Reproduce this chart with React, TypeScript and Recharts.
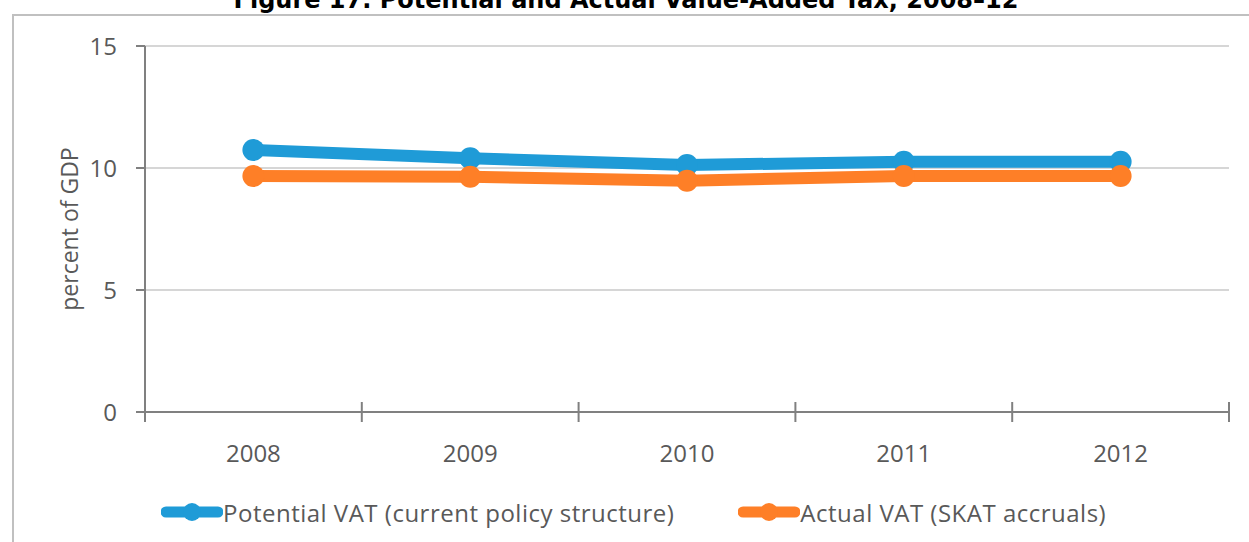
import React from 'react'
import { LineChart, Line, XAxis, YAxis, CartesianGrid, Legend } from 'recharts'

const years = ['2008', '2009', '2010', '2011', '2012']
const potentialVat = [10.74, 10.4, 10.12, 10.26, 10.26]
const actualVat = [9.67, 9.64, 9.48, 9.67, 9.67]
const yTicks = [0, 5, 10, 15]

const potentialName = 'Potential VAT (current policy structure)'
const actualName = 'Actual VAT (SKAT accruals)'
const legendOrder = [potentialName, actualName]

const data = years.map((year, i) => ({
  year,
  potential: potentialVat[i],
  actual: actualVat[i],
}))

const FONT = '"Open Sans", "Noto Sans", sans-serif'
const TEXT = '#595959'
const AXIS = '#808080'
const BLUE = '#1f9bd7'
const ORANGE = '#fe7f27'
const TICK_MARGIN = 30

// x ticks sit between categories (excel style), so draw the cross marks ourselves
function XTick(props: any) {
  const { x, y, payload, index, width, visibleTicksCount } = props
  const half = payload.offset > 0 ? payload.offset : width / (2 * visibleTicksCount)
  const axisY = y - TICK_MARGIN
  return (
    <g>
      <line x1={x - half} x2={x - half} y1={axisY - 10} y2={axisY + 10} stroke={AXIS} strokeWidth={2} />
      {index === visibleTicksCount - 1 && (
        <line x1={x + half} x2={x + half} y1={axisY - 10} y2={axisY + 10} stroke={AXIS} strokeWidth={2} />
      )}
      <text x={x} y={y + 20} textAnchor="middle" fill={TEXT} fontSize={24} fontFamily={FONT}>
        {payload.value}
      </text>
    </g>
  )
}

function YLabel(props: any) {
  const { viewBox } = props
  const cx = 69
  const cy = viewBox.y + viewBox.height / 2
  return (
    <text
      x={cx}
      y={cy}
      transform={`rotate(-90, ${cx}, ${cy})`}
      textAnchor="middle"
      dominantBaseline="central"
      fill={TEXT}
      fontSize={23}
      fontFamily={FONT}
    >
      percent of GDP
    </text>
  )
}

function renderLegend(props: any) {
  const items = [...props.payload].sort(
    (a: any, b: any) => legendOrder.indexOf(a.value) - legendOrder.indexOf(b.value)
  )
  return (
    <div
      style={{
        display: 'flex',
        alignItems: 'center',
        height: 40,
        paddingLeft: 161,
        fontFamily: FONT,
        fontSize: 24,
        letterSpacing: 0.5,
        color: TEXT,
        whiteSpace: 'nowrap',
      }}
    >
      {items.map((entry: any) => (
        <div key={entry.value} style={{ display: 'flex', alignItems: 'center', marginRight: 64 }}>
          <svg width={62} height={24} style={{ display: 'block' }}>
            <line x1={5} y1={12} x2={57} y2={12} stroke={entry.color} strokeWidth={11} strokeLinecap="round" />
            <circle cx={31} cy={12} r={9} fill={entry.color} />
          </svg>
          <span>{entry.value}</span>
        </div>
      ))}
    </div>
  )
}

export default function App() {
  return (
    <div
      style={{
        position: 'fixed',
        left: 0,
        top: 0,
        width: 1249,
        height: 542,
        overflow: 'hidden',
        background: '#fff',
      }}
    >
      <div
        style={{
          position: 'absolute',
          left: 12,
          top: 14,
          width: 1400,
          height: 700,
          border: '2px solid #c0c0c0',
          boxSizing: 'border-box',
        }}
      />
      <div
        style={{
          position: 'absolute',
          left: 0,
          top: -12,
          width: 1252,
          textAlign: 'center',
          fontFamily: '"DejaVu Sans", sans-serif',
          fontWeight: 'bold',
          fontSize: 24,
          lineHeight: '24px',
          color: '#000',
          whiteSpace: 'nowrap',
        }}
      >
        Figure 17. Potential and Actual Value-Added Tax, 2008–12
      </div>
      <div style={{ position: 'absolute', left: 0, top: 0 }}>
        <LineChart
          width={1249}
          height={542}
          data={data}
          margin={{ top: 46, right: 20, bottom: 10, left: 0 }}
        >
          <CartesianGrid vertical={false} stroke="#c8c8c8" strokeWidth={1.5} />
          <XAxis
            dataKey="year"
            scale="band"
            height={80}
            interval={0}
            tickLine={false}
            tickSize={0}
            tickMargin={TICK_MARGIN}
            axisLine={{ stroke: AXIS, strokeWidth: 2 }}
            tick={<XTick />}
          />
          <YAxis
            width={145}
            domain={[0, 15]}
            ticks={yTicks}
            interval={0}
            tickSize={9}
            tickMargin={19}
            tickLine={{ stroke: AXIS, strokeWidth: 2 }}
            axisLine={{ stroke: AXIS, strokeWidth: 2 }}
            tick={{ fill: TEXT, fontSize: 24, fontFamily: FONT }}
            label={<YLabel />}
          />
          <Legend
            verticalAlign="bottom"
            content={renderLegend}
            width={1249}
            wrapperStyle={{ left: 0, width: 1249 }}
          />
          <Line
            type="linear"
            dataKey="potential"
            name={potentialName}
            stroke={BLUE}
            strokeWidth={12}
            dot={{ r: 11, fill: BLUE, stroke: 'none' }}
            activeDot={false}
            isAnimationActive={false}
          />
          <Line
            type="linear"
            dataKey="actual"
            name={actualName}
            stroke={ORANGE}
            strokeWidth={12}
            dot={{ r: 11, fill: ORANGE, stroke: 'none' }}
            activeDot={false}
            isAnimationActive={false}
          />
        </LineChart>
      </div>
    </div>
  )
}
